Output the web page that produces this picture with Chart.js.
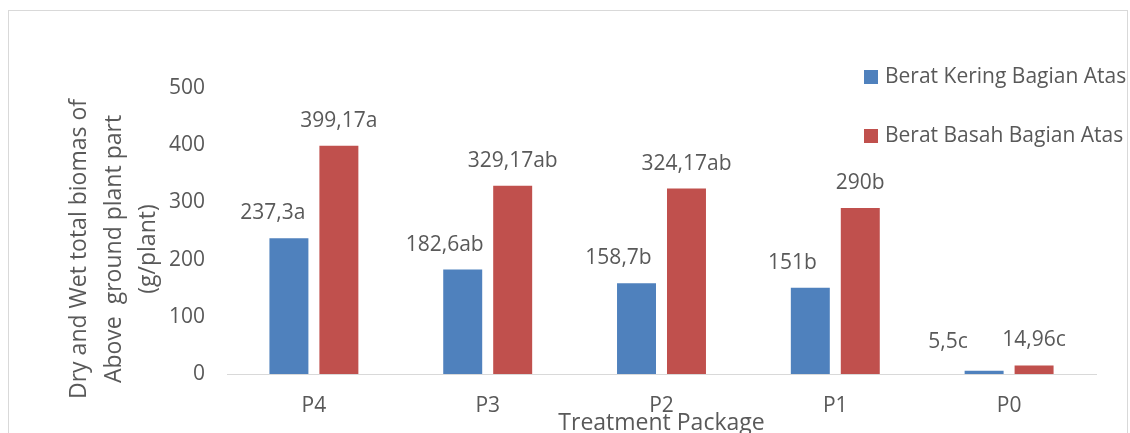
<!DOCTYPE html>
<html>
<head>
<meta charset="utf-8">
<script src="https://cdn.jsdelivr.net/npm/chart.js@4"></script>
<style>
  body { margin: 0; background: #fff; }
  #wrap { width: 1130px; height: 433px; position: relative; }
</style>
</head>
<body>
<div id="wrap"><canvas id="myChart" width="1130" height="433"></canvas></div>
<script>
// data
const categories = ['P4', 'P3', 'P2', 'P1', 'P0'];
const dryValues = [237.3, 182.6, 158.7, 151, 5.5];
const wetValues = [399.17, 329.17, 324.17, 290, 14.96];
const dryLabels = ['237,3a', '182,6ab', '158,7b', '151b', '5,5c'];
const wetLabels = ['399,17a', '329,17ab', '324,17ab', '290b', '14,96c'];
const seriesNames = ['Berat Kering Bagian Atas', 'Berat Basah Bagian Atas'];
const yTicks = [0, 100, 200, 300, 400, 500];

const textColor = '#595959';
const font = '"Open Sans", sans-serif';
// label nudges (Excel had the dry labels dragged a bit to the left)
const dryNudge = [-16, -18, -18, -18, -36];

const labelPlugin = {
  id: 'barLabels',
  afterDatasetsDraw(chart) {
    const ctx = chart.ctx;
    ctx.save();
    ctx.fillStyle = textColor;
    ctx.font = '21px ' + font;
    ctx.textAlign = 'center';
    ctx.textBaseline = 'middle';
    const all = [dryLabels, wetLabels];
    chart.data.datasets.forEach((ds, di) => {
      chart.getDatasetMeta(di).data.forEach((bar, i) => {
        let dx = di === 0 ? dryNudge[i] : 0;
        let dy = (di === 0 && i === 4) ? 29 : 25;
        ctx.fillText(all[di][i], bar.x + dx, bar.y - dy);
      });
    });
    ctx.restore();
  }
};

const decorPlugin = {
  id: 'decor',
  beforeDraw(chart) {
    const ctx = chart.ctx;
    ctx.save();
    ctx.strokeStyle = '#d9d9d9';
    ctx.lineWidth = 1;
    ctx.strokeRect(8.5, 10.5, 1119, 450);
    ctx.restore();
  },
  afterDraw(chart) {
    const ctx = chart.ctx;
    const area = chart.chartArea;
    ctx.save();
    ctx.fillStyle = textColor;
    // y title, three lines rotated
    ctx.font = '23px ' + font;
    ctx.textAlign = 'center';
    ctx.textBaseline = 'middle';
    const yTitle = ['Dry and Wet total biomas of', 'Above  ground plant part', '(g/plant)'];
    const xs = [79, 114, 148];
    yTitle.forEach((t, i) => {
      ctx.save();
      ctx.translate(xs[i], 249);
      ctx.rotate(-Math.PI / 2);
      ctx.fillText(t, 0, 0);
      ctx.restore();
    });
    // x title
    ctx.fillText('Treatment Package', (area.left + area.right) / 2, 423);
    // legend
    ctx.font = '21px ' + font;
    ctx.textAlign = 'left';
    chart.data.datasets.forEach((ds, i) => {
      const cy = 77 + i * 59;
      ctx.fillStyle = ds.backgroundColor;
      ctx.fillRect(864, cy - 7, 14, 14);
      ctx.fillStyle = textColor;
      ctx.fillText(ds.label, 885, cy);
    });
    ctx.restore();
  }
};

const ctx = document.getElementById('myChart').getContext('2d');
new Chart(ctx, {
  type: 'bar',
  data: {
    labels: categories,
    datasets: [{
      label: seriesNames[0],
      data: dryValues,
      backgroundColor: '#4F81BD'
    }, {
      label: seriesNames[1],
      data: wetValues,
      backgroundColor: '#C0504D'
    }]
  },
  options: {
    responsive: false,
    animation: false,
    layout: { padding: { left: 0, top: 88, right: 34, bottom: 0 } },
    plugins: {
      legend: { display: false },
      tooltip: { enabled: false }
    },
    datasets: {
      bar: { categoryPercentage: 0.575, barPercentage: 0.78 }
    },
    scales: {
      x: {
        afterFit(scale) { scale.height = 59; },
        grid: { display: false, drawTicks: false },
        border: { display: true, color: '#d9d9d9', width: 1 },
        ticks: { color: textColor, font: { family: font, size: 21 }, padding: 19 }
      },
      y: {
        min: 0,
        max: 500,
        afterFit(scale) { scale.width = 227; },
        afterBuildTicks(scale) { scale.ticks = yTicks.map(v => ({ value: v })); },
        grid: { display: false, drawTicks: false },
        border: { display: false },
        ticks: { color: textColor, font: { family: font, size: 21 }, padding: 22 }
      }
    }
  },
  plugins: [labelPlugin, decorPlugin]
});
</script>
</body>
</html>
